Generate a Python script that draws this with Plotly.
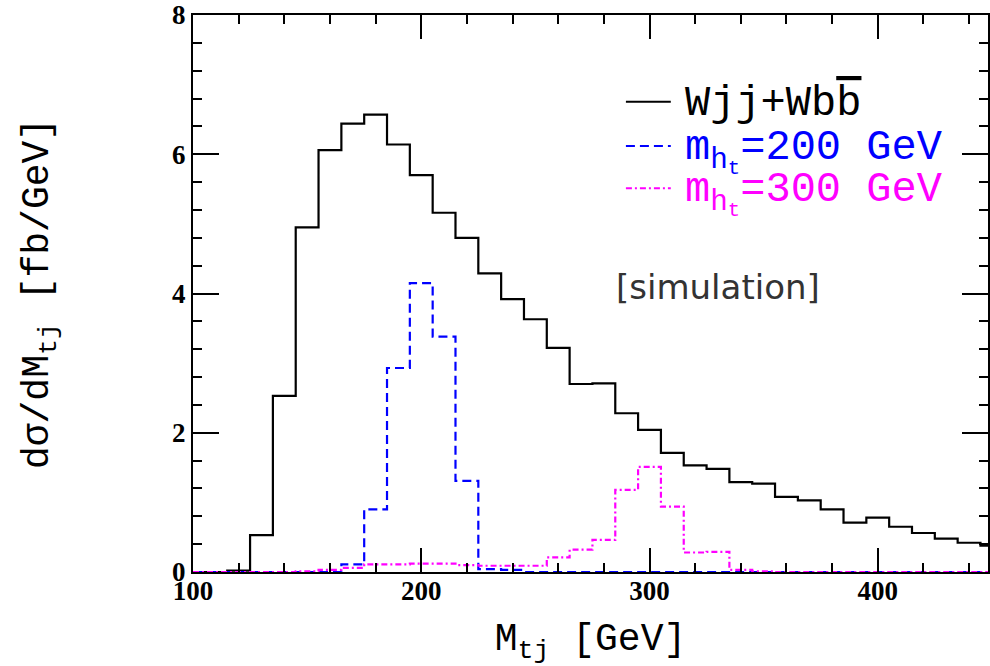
import plotly.graph_objects as go

# bin centres (GeV), 10 GeV bins
m_tj = [100, 110, 120, 130, 140, 150, 160, 170, 180, 190, 200, 210, 220, 230, 240, 250,
        260, 270, 280, 290, 300, 310, 320, 330, 340, 350, 360, 370, 380, 390, 400, 410,
        420, 430, 440, 450]

wjj_wbb = [0.0, 0.0, 0.02, 0.53, 2.53, 4.95, 6.06, 6.44, 6.57, 6.14, 5.70, 5.16, 4.80, 4.29,
           3.92, 3.63, 3.22, 2.70, 2.71, 2.28, 2.04, 1.71, 1.53, 1.48, 1.29, 1.27, 1.08, 1.03,
           0.90, 0.71, 0.78, 0.65, 0.56, 0.48, 0.42, 0.38]

mht_200 = [0.0, 0.0, 0.0, 0.0, 0.0, 0.0, 0.0, 0.11, 0.90, 2.93, 4.15, 3.38, 1.31, 0.04,
           0.03, 0.0, 0.0, 0.0, 0.0, 0.0, 0.0, 0.0, 0.0, 0.0, 0.0, 0.0, 0.0, 0.0,
           0.0, 0.0, 0.0, 0.0, 0.0, 0.0, 0.0, 0.0]

mht_300 = [0.0, 0.0, 0.0, 0.0, 0.0, 0.01, 0.03, 0.06, 0.11, 0.11, 0.12, 0.12, 0.10, 0.09,
           0.09, 0.09, 0.21, 0.32, 0.46, 1.18, 1.51, 0.94, 0.28, 0.29, 0.03, 0.01, 0.0, 0.0,
           0.0, 0.0, 0.0, 0.0, 0.0, 0.0, 0.0, 0.0]

x_ticks = [100, 200, 300, 400]
y_ticks = [0, 2, 4, 6, 8]

BLUE = "#0000ff"
MAG = "#ff00ff"
MONO = "Liberation Mono"

fig = go.Figure()
fig.add_trace(go.Scatter(x=m_tj, y=wjj_wbb, mode="lines", line_shape="hvh",
                         line=dict(color="black", width=2.2), name="Wjj+Wbb̄", showlegend=False))
fig.add_trace(go.Scatter(x=m_tj, y=mht_200, mode="lines", line_shape="hvh",
                         line=dict(color=BLUE, width=2.2, dash="9px,5px"),
                         name="m_ht=200 GeV", showlegend=False))
fig.add_trace(go.Scatter(x=m_tj, y=mht_300, mode="lines", line_shape="hvh",
                         line=dict(color=MAG, width=2.2, dash="6px,3px,2px,3px"),
                         name="m_ht=300 GeV", showlegend=False))

L, R, T, B = 193, 0, 15, 94
W, H = 990, 666
pw = W - L - R
ph = H - T - B


def px(xp):
    return (xp - L) / pw


def py(yp):
    return (H - B - yp) / ph


axis_common = dict(showline=True, linecolor="black", linewidth=2, mirror="allticks",
                   ticks="inside", tickwidth=2, tickcolor="black", showgrid=False,
                   zeroline=False)

fig.update_xaxes(range=[100, 448.3], tickvals=x_ticks, ticklen=24, ticklabelstandoff=-6,
                 minor=dict(dtick=20, tick0=100, ticks="inside", ticklen=9, tickwidth=1.6,
                            tickcolor="black", showgrid=False),
                 tickfont=dict(family="Liberation Serif", size=27, color="black", weight="bold"),
                 title=dict(text="M<sub>tj</sub> [GeV]",
                            font=dict(family=MONO, size=38, color="black"), standoff=20),
                 **axis_common)
fig.update_yaxes(range=[0, 8], tickvals=y_ticks, ticklen=26,
                 minor=dict(dtick=0.4, tick0=0, ticks="inside", ticklen=9, tickwidth=1.6,
                            tickcolor="black", showgrid=False),
                 tickfont=dict(family="Liberation Serif", size=27, color="black", weight="bold"),
                 title=dict(text="dσ/dM<sub>tj</sub> [fb/GeV]",
                            font=dict(family=MONO, size=38, color="black"), standoff=112),
                 **axis_common)

# legend keys
keys = [(101.7, "black", "solid", "Wjj+Wb<span style='text-decoration:overline'>b</span>", 104),
        (146, BLUE, "9px,5px", "m<sub>h<sub>t</sub></sub>=200 GeV", 152),
        (188.3, MAG, "6px,3px,2px,3px", "m<sub>h<sub>t</sub></sub>=300 GeV", 194)]
for ly, col, dash, txt, ty in keys:
    fig.add_shape(type="line", xref="paper", yref="paper", x0=px(627), x1=px(672),
                  y0=py(ly), y1=py(ly), line=dict(color=col, width=2, dash=dash))
    fig.add_annotation(xref="paper", yref="paper", x=px(684), y=py(ty), xanchor="left",
                       yanchor="middle", text=txt, showarrow=False,
                       font=dict(family=MONO, size=42, color=col))

fig.add_annotation(xref="paper", yref="paper", x=px(719), y=py(287), text="[simulation]",
                   showarrow=False, xanchor="center", yanchor="middle",
                   font=dict(family="DejaVu Sans", size=34, color="#333333"))

fig.update_layout(width=W, height=H, margin=dict(l=L, r=R, t=T, b=B),
                  plot_bgcolor="white", paper_bgcolor="white", showlegend=False)

fig.write_html("out.html")
